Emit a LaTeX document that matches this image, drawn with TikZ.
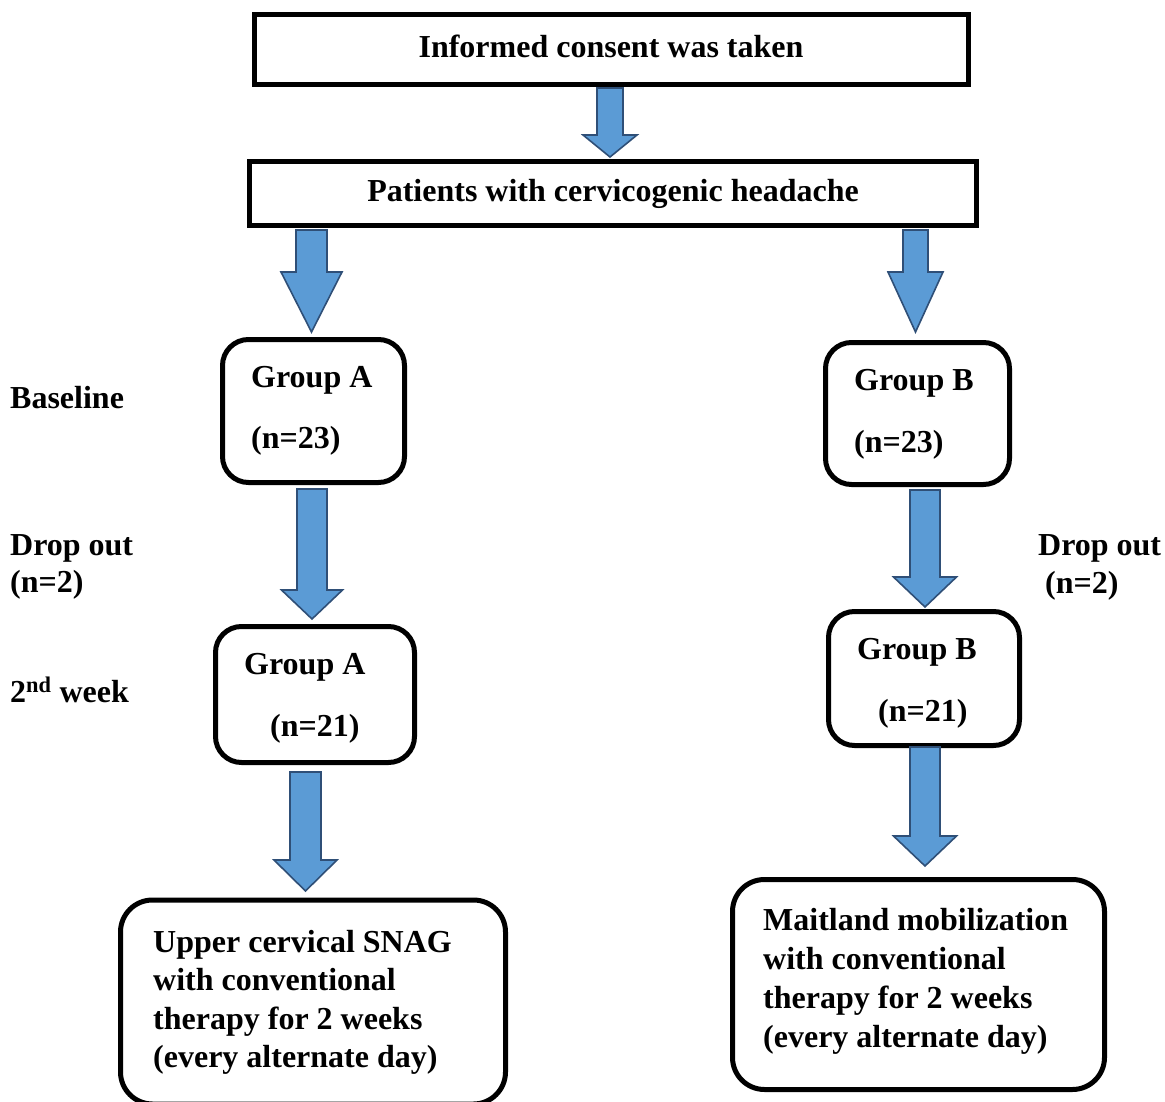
\documentclass[tikz,border=0pt]{standalone}
\usepackage{fontspec}
\setmainfont{Liberation Serif}
\definecolor{arrowfill}{HTML}{5B9BD5}
\definecolor{arrowline}{HTML}{2F4F77}
\tikzset{
  box/.style={draw, line width=5pt, inner sep=0pt},
  rbox/.style={box, rounded corners=26pt},
  fbox/.style={box, rounded corners=32pt},
  lbl/.style={font=\fontsize{32}{38}\selectfont\bfseries, inner sep=0pt, anchor=base west},
  ctr/.style={font=\fontsize{32}{38}\selectfont\bfseries, inner sep=0pt, anchor=base},
  barrow/.style={fill=arrowfill, draw=arrowline, line width=1.6pt, line join=miter},
}
\newcommand\blockarrow[6]{% cx, ytop, yhead, ytip, shaft half, head half
  \draw[barrow] (#1-#5,#2) -- (#1+#5,#2) -- (#1+#5,#3) -- (#1+#6,#3) -- (#1,#4) -- (#1-#6,#3) -- (#1-#5,#3) -- cycle;}
\begin{document}
\begin{tikzpicture}[x=1pt,y=-1pt]
\useasboundingbox[fill=white] (0,0) rectangle (1165,1102);
\begin{scope}
\clip (0,0) rectangle (1165,1102);
% boxes
\node[box, minimum width=714pt, minimum height=70pt] (consent) at (611,50) {};
\node[box, minimum width=727pt, minimum height=64pt] (patients) at (613,194) {};
\node[rbox, minimum width=182pt, minimum height=143pt] (ga1) at (313.5,411) {};
\node[rbox, minimum width=184pt, minimum height=142pt] (gb1) at (917.5,413.5) {};
\node[rbox, minimum width=199pt, minimum height=136pt] (ga2) at (315,694.5) {};
\node[rbox, minimum width=191pt, minimum height=134pt] (gb2) at (924,678.5) {};
\node[fbox, minimum width=385pt, minimum height=204pt] (fa) at (313,1002) {};
\node[fbox, minimum width=372pt, minimum height=210pt] (fb) at (918.5,984.5) {};
% texts in boxes
\node[ctr] (t1) at (611,58) {Informed consent was taken};
\node[ctr] (t2) at (613,202) {Patients with cervicogenic headache};
\node[lbl] (ga1a) at (251,387) {Group A};
\node[lbl] (ga1b) at (251,448) {(n=23)};
\node[lbl] (gb1a) at (854,390) {Group B};
\node[lbl] (gb1b) at (854,452) {(n=23)};
\node[lbl] (ga2a) at (244,674) {Group A};
\node[lbl] (ga2b) at (270,736) {(n=21)};
\node[lbl] (gb2a) at (857,659) {Group B};
\node[lbl] (gb2b) at (878,721) {(n=21)};
\node[lbl] (fa1) at (153,952) {Upper cervical SNAG};
\node[lbl] (fa2) at (153,990.5) {with conventional};
\node[lbl] (fa3) at (153,1029) {therapy for 2 weeks};
\node[lbl] (fa4) at (153,1067.5) {(every alternate day)};
\node[lbl] (fb1) at (763,930) {Maitland mobilization};
\node[lbl] (fb2) at (763,969) {with conventional};
\node[lbl] (fb3) at (763,1008) {therapy for 2 weeks};
\node[lbl] (fb4) at (763,1047) {(every alternate day)};
% side labels
\node[lbl] (base) at (10,408) {Baseline};
\node[lbl] (dl1) at (10,555) {Drop out};
\node[lbl] (dl2) at (10,592) {(n=2)};
\node[lbl] (wk) at (10,702) {2\textsuperscript{nd} week};
\node[lbl] (dr1) at (1038,555) {Drop out};
\node[lbl] (dr2) at (1045,593) {(n=2)};
% block arrows
\blockarrow{610}{88}{135}{157}{13}{27}
\blockarrow{311.5}{230}{272}{332}{15.5}{30.5}
\blockarrow{915.5}{230}{272}{332}{12.5}{27.5}
\blockarrow{312}{489}{590}{619}{15}{30.5}
\blockarrow{925}{490}{577}{607}{15}{31.5}
\blockarrow{305.5}{772}{860}{891}{15.5}{31.5}
\blockarrow{925}{747}{836}{866}{15}{31.5}
\end{scope}
\end{tikzpicture}
\end{document}
